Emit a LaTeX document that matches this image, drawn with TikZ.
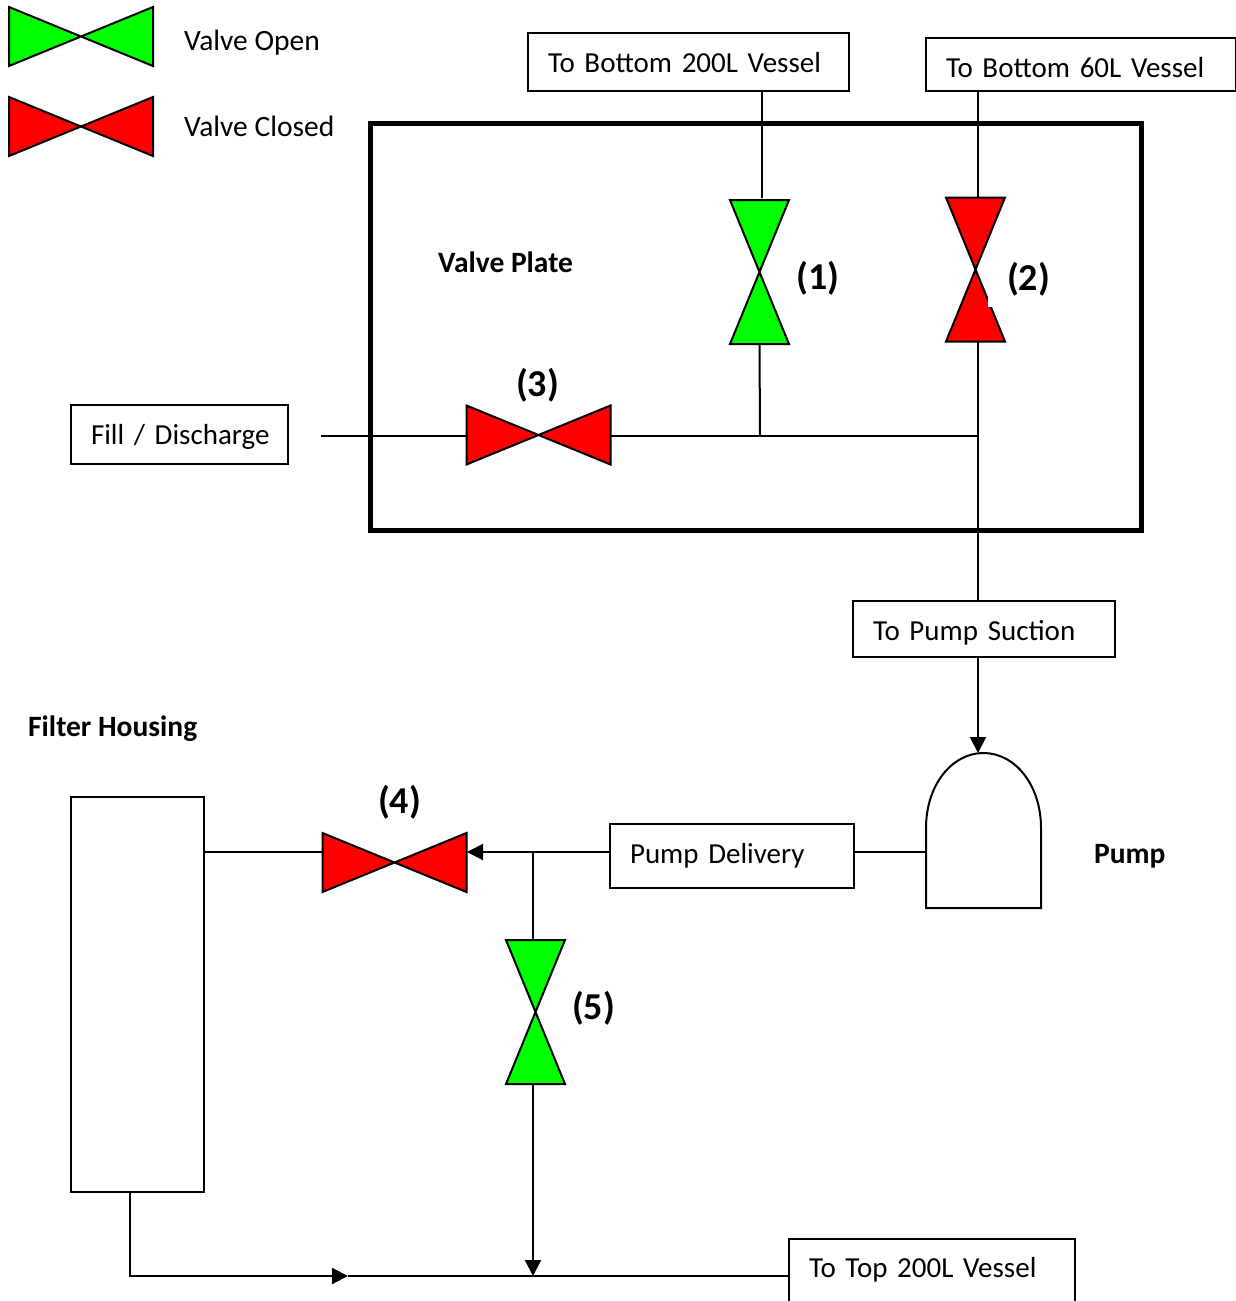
\documentclass[tikz,border=0pt]{standalone}
\usepackage{fontspec}
\setmainfont{Carlito}
\usepackage{xcolor}
\usetikzlibrary{arrows.meta,calc}
\definecolor{openvalve}{RGB}{0,255,0}
\definecolor{closedvalve}{RGB}{255,0,0}
\tikzset{
	pipe/.style={line width=2pt},
	pipebox/.style={draw,line width=2pt,inner xsep=20pt,inner ysep=0pt,text depth=0pt,align=left,font=\fontsize{29}{32}\selectfont},
	legendtext/.style={anchor=base west,inner sep=0pt,font=\fontsize{29.5}{32}\selectfont},
	boldtext/.style={anchor=base west,inner sep=0pt,font=\fontsize{29.5}{32}\selectfont\bfseries},
	valvenum/.style={anchor=base,inner sep=0pt,font=\fontsize{38}{42}\selectfont\bfseries},
	valveh/.pic={
		\draw[pipe,fill=#1,line join=miter] (-72,-29.5) -- (72,29.5) -- (72,-29.5) -- (-72,29.5) -- cycle;
		\coordinate (-l) at (-72,0);
		\coordinate (-r) at (72,0);
	},
	valvev/.pic={
		\draw[pipe,fill=#1,line join=miter] (-29.5,-72) -- (29.5,72) -- (-29.5,72) -- (29.5,-72) -- cycle;
		\coordinate (-t) at (0,-72);
		\coordinate (-b) at (0,72);
	}
}
\begin{document}
\begin{tikzpicture}[x=1pt,y=-1pt,>={Triangle[length=16pt,width=16pt]}]
\useasboundingbox (0,0) rectangle (1236,1301);
% legend
\pic (legopen) at (81,36.5) {valveh=openvalve};
\pic (legclosed) at (81,126.5) {valveh=closedvalve};
\node[legendtext] (openlabel) at (184,50) {Valve Open};
\node[legendtext] (closedlabel) at (184,136) {Valve Closed};
% valve plate
\draw[line width=5pt] (370,123) rectangle (1141,530);
\node[boldtext] (platelabel) at (438,272) {Valve Plate};
\pic (v1) at (759.5,272) {valvev=openvalve};
\pic (v2) at (975.5,269.5) {valvev=closedvalve};
\fill[white] (988,297) rectangle (993,307);
\pic (v3) at (538.5,435) {valveh=closedvalve};
\node[valvenum] (n1) at (818,289) {(1)};
\node[valvenum] (n2) at (1028.5,290) {(2)};
\node[valvenum] (n3) at (537.5,396) {(3)};
% boxes
\node[pipebox,minimum width=321,minimum height=58,text width=281,text height=20] (bot200) at (688.5,62) {To Bottom 200L Vessel};
\node[pipebox,minimum width=310,minimum height=53,text width=270,text height=25] (bot60) at (1081,64.5) {To Bottom 60L Vessel};
\node[pipebox,minimum width=217,minimum height=59,text width=177,text height=19] (fill) at (179.5,434.5) {\mbox{Fill / Discharge}};
\node[pipebox,minimum width=262,minimum height=56,text width=222,text height=22] (suction) at (984,629) {To Pump Suction};
\node[pipebox,minimum width=244,minimum height=64,text width=204,text height=14] (delivery) at (732,856) {Pump Delivery};
\node[pipebox,minimum width=286,minimum height=100,text width=246,text height=20,text depth=44] (top200) at (932,1289) {To Top 200L Vessel};
% pump and filter
\draw[pipe] (926,908) -- (926,828) .. controls (926,785) and (952,753) .. (983.5,753) .. controls (1015,753) and (1041,785) .. (1041,828) -- (1041,908) -- cycle;
\coordinate (pumptop) at (978,753);
\coordinate (pumpleft) at (926,852);
\node[boldtext] (pumplabel) at (1094,863) {Pump};
\node[draw,line width=2pt,minimum width=133,minimum height=395,inner sep=0pt] (filter) at (137.5,994.5) {};
\node[boldtext] (filterlabel) at (28,736) {Filter Housing};
\pic (v4) at (394.5,862.5) {valveh=closedvalve};
\pic (v5) at (535.5,1012) {valvev=openvalve};
\node[valvenum] (n4) at (399.5,813) {(4)};
\node[valvenum] (n5) at (593.5,1019) {(5)};
% pipes
\coordinate (fillend) at (321,435.5);
\coordinate (j1) at (760,435.5);
\coordinate (j2) at (978,435.5);
\coordinate (j3) at (533,852);
\coordinate (j4) at (533,1276);
\coordinate (j5) at (130,1276);
\coordinate (j6) at (348,1276);
\draw[pipe] (fillend) -- (v3-l |- fillend);
\draw[pipe] (v3-r |- j2) -- (j2);
\draw[pipe] (v1-b) -- (j1);
\draw[pipe] (bot200.south -| 762,0) -- (762,198);
\draw[pipe] (bot60.south -| j2) -- (j2 |- v2-t);
\draw[pipe] (j2 |- v2-b) -- (j2 |- suction.north);
\draw[pipe,->] (j2 |- suction.south) -- (pumptop);
\draw[pipe] (pumpleft) -- (delivery.east |- pumpleft);
\draw[pipe,->] (delivery.west |- j3) -- (467,852);
\draw[pipe] (filter.east |- j3) -- (322,852);
\draw[pipe] (j3) -- (j3 |- v5-t);
\draw[pipe,->] (j3 |- v5-b) -- (j4);
\draw[pipe] (top200.west |- j4) -- (j6);
\draw[pipe,->] (filter.south -| j5) -- (j5) -- (j6);
\end{tikzpicture}
\end{document}
